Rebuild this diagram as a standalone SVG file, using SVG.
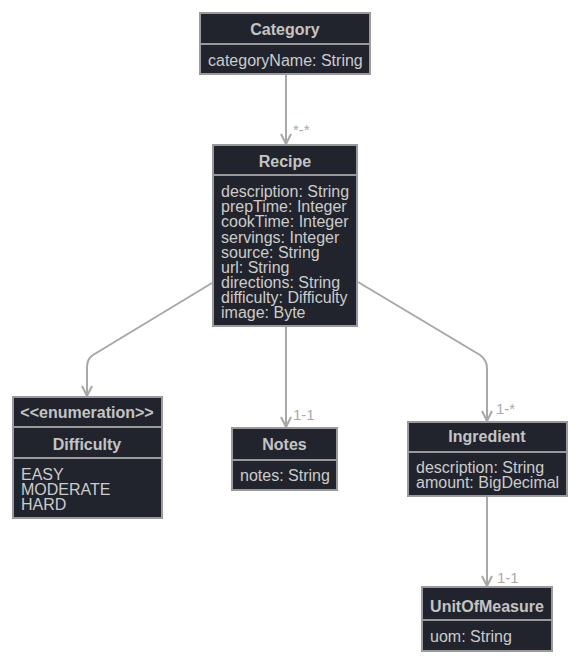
<svg xmlns="http://www.w3.org/2000/svg" width="580" height="665" viewBox="0 0 580 665">
  <style>
    .box { fill: #21242c; stroke: #9a9a9a; stroke-width: 2; }
    .div { stroke: #9a9a9a; stroke-width: 2; }
    .title { font-family: "Liberation Sans", Arial, sans-serif; font-size: 16px; font-weight: bold; fill: #c4c4c4; text-anchor: middle; }
    .attr { font-family: "Liberation Sans", Arial, sans-serif; font-size: 16px; fill: #cccccc; }
    .edge { fill: none; stroke: #a8a8a8; stroke-width: 2; }
    .lbl { font-family: "Liberation Sans", Arial, sans-serif; font-size: 15px; fill: #aaaaaa; }
  </style>
  <defs>
    <marker id="arrow" viewBox="-13 -8 15 16" refX="0" refY="0" markerWidth="15" markerHeight="16" markerUnits="userSpaceOnUse" orient="auto" overflow="visible">
      <path d="M-10,-5 L0,0 L-10,5" fill="none" stroke="#a8a8a8" stroke-width="2"/>
    </marker>
  </defs>

  <g id="connectors">
    <path class="edge" d="M286,74 L286,144" marker-end="url(#arrow)"/>
    <path class="edge" d="M212,283 L93,355 Q87,359 87,367 L87,396" marker-end="url(#arrow)"/>
    <path class="edge" d="M286,326 L286,427" marker-end="url(#arrow)"/>
    <path class="edge" d="M358,282 L480,355 Q487,360 487,368 L487,421" marker-end="url(#arrow)"/>
    <path class="edge" d="M487,496 L487,586" marker-end="url(#arrow)"/>
    <text class="lbl" x="293" y="135">*-*</text>
    <text class="lbl" x="293" y="420">1-1</text>
    <text class="lbl" x="496" y="414">1-*</text>
    <text class="lbl" x="497" y="583">1-1</text>
  </g>

  <g id="Category">
    <rect class="box" x="200" y="13" width="170" height="61"/>
    <line class="div" x1="200" y1="44" x2="370" y2="44"/>
    <text class="title" x="285" y="35">Category</text>
    <text class="attr" x="208" y="66">categoryName: String</text>
  </g>

  <g id="Recipe">
    <rect class="box" x="213" y="145" width="144" height="181"/>
    <line class="div" x1="213" y1="175" x2="357" y2="175"/>
    <text class="title" x="285" y="167">Recipe</text>
    <text class="attr" x="221" y="197">description: String</text>
    <text class="attr" x="221" y="212">prepTime: Integer</text>
    <text class="attr" x="221" y="227">cookTime: Integer</text>
    <text class="attr" x="221" y="243">servings: Integer</text>
    <text class="attr" x="221" y="258">source: String</text>
    <text class="attr" x="221" y="273">url: String</text>
    <text class="attr" x="221" y="288">directions: String</text>
    <text class="attr" x="221" y="303">difficulty: Difficulty</text>
    <text class="attr" x="221" y="318">image: Byte</text>
  </g>

  <g id="Difficulty">
    <rect class="box" x="13" y="397" width="149" height="121"/>
    <line class="div" x1="13" y1="427" x2="162" y2="427"/>
    <line class="div" x1="13" y1="458" x2="162" y2="458"/>
    <text class="title" x="87" y="418">&lt;&lt;enumeration&gt;&gt;</text>
    <text class="title" x="87" y="450">Difficulty</text>
    <text class="attr" x="21" y="480">EASY</text>
    <text class="attr" x="21" y="495">MODERATE</text>
    <text class="attr" x="21" y="510">HARD</text>
  </g>

  <g id="Notes">
    <rect class="box" x="232" y="428" width="105" height="62"/>
    <line class="div" x1="232" y1="460" x2="337" y2="460"/>
    <text class="title" x="284.5" y="450">Notes</text>
    <text class="attr" x="240" y="481">notes: String</text>
  </g>

  <g id="Ingredient">
    <rect class="box" x="408" y="422" width="159" height="74"/>
    <line class="div" x1="408" y1="452" x2="567" y2="452"/>
    <text class="title" x="487" y="442">Ingredient</text>
    <text class="attr" x="416" y="473">description: String</text>
    <text class="attr" x="416" y="488">amount: BigDecimal</text>
  </g>

  <g id="UnitOfMeasure">
    <rect class="box" x="422" y="587" width="130" height="64"/>
    <line class="div" x1="422" y1="620" x2="552" y2="620"/>
    <text class="title" x="487" y="612">UnitOfMeasure</text>
    <text class="attr" x="430" y="642">uom: String</text>
  </g>
</svg>
